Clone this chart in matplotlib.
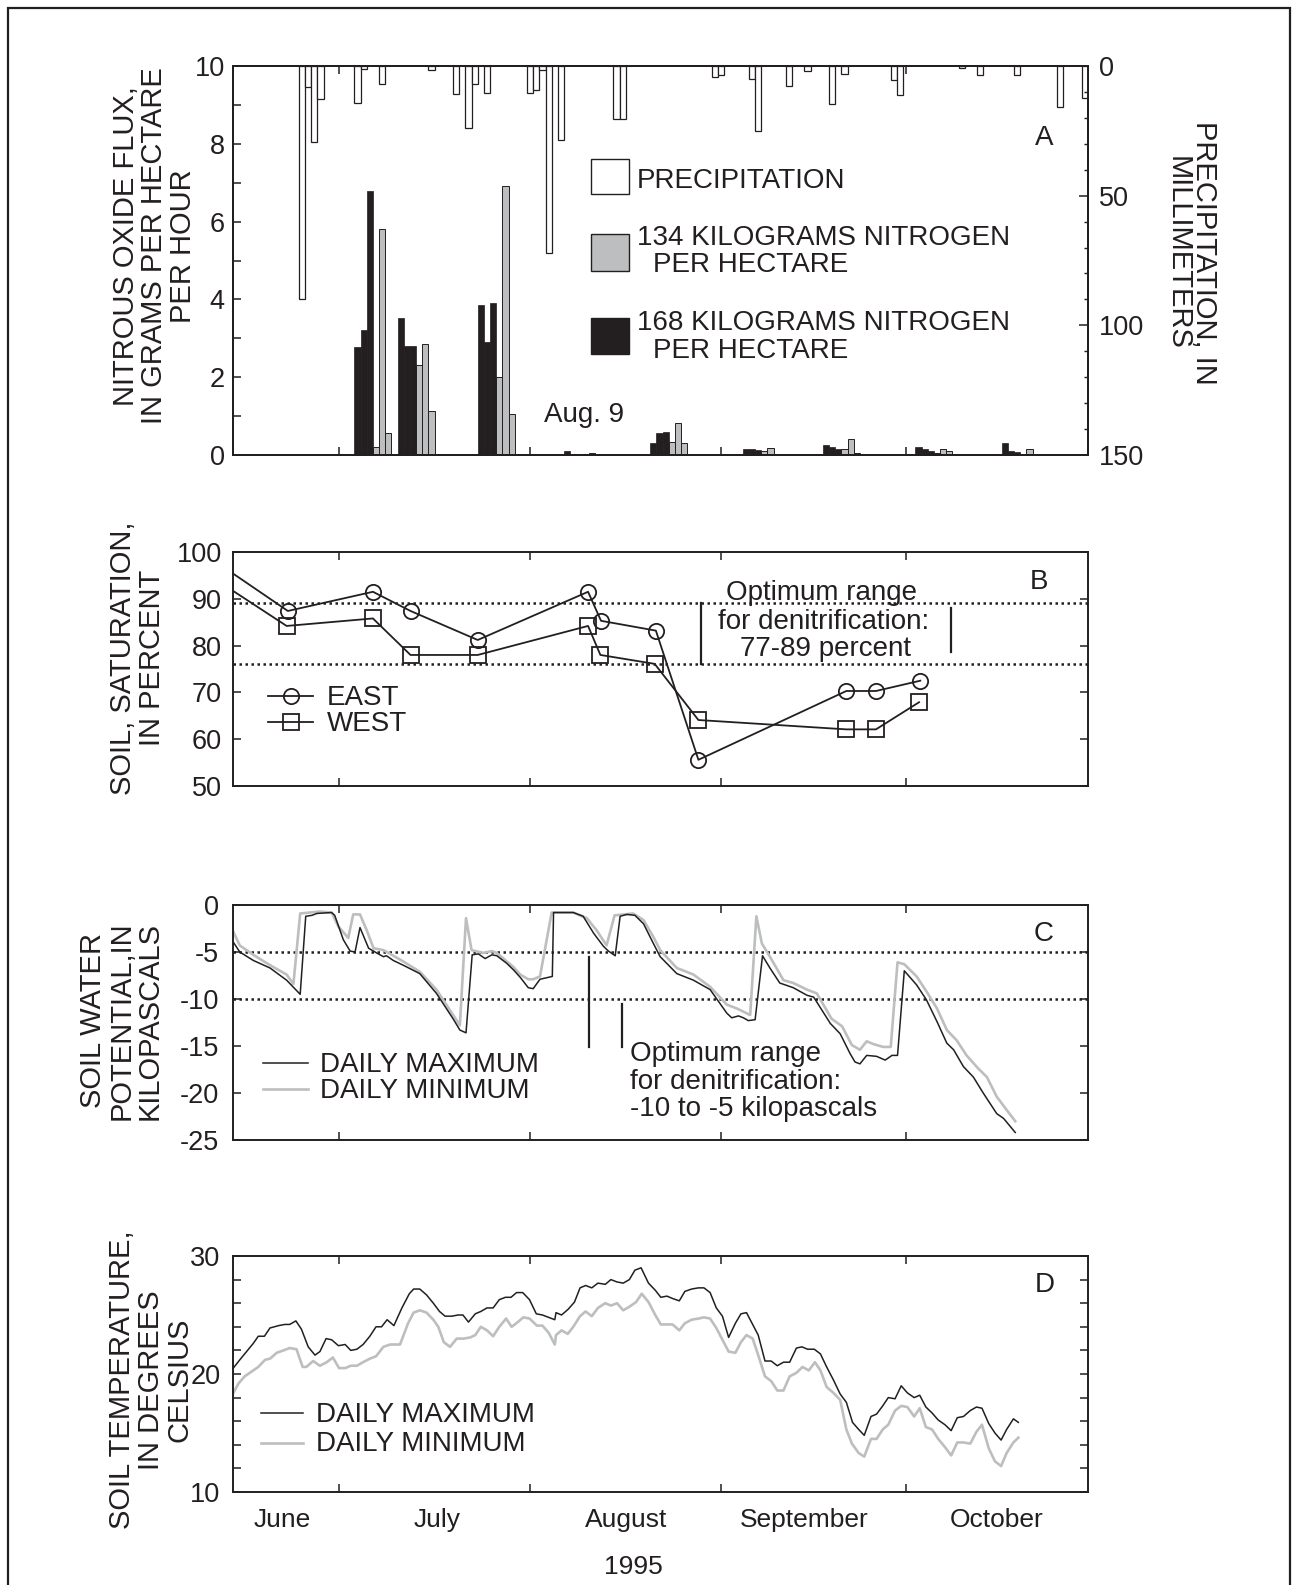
import matplotlib
matplotlib.use("Agg")
import matplotlib.pyplot as plt
from matplotlib.patches import Rectangle
from matplotlib.ticker import MultipleLocator, FixedLocator
import matplotlib.transforms as mtransforms

# ---------------- data (x = day of year, 1995) ----------------
month_edges = [182, 213, 244, 274]          # Jul 1, Aug 1, Sep 1, Oct 1
month_names = ["June", "July", "August", "September", "October"]
month_label_days = [172.8, 197.9, 228.6, 257.4, 288.7]

precip_day = [176, 177, 178, 179, 185, 186, 189, 197, 201, 203, 204, 206, 213, 214,
              215, 216, 218, 227, 228, 243, 244, 249, 250, 255, 258, 262, 264, 272,
              273, 283, 286, 292, 299, 303]
precip_mm = [90, 8.2, 29.4, 12.9, 14.4, 1.2, 6.9, 1.7, 10.7, 23.8, 7.1, 10.4, 10.4, 9.3,
             1.5, 72.1, 28.4, 20.4, 20.4, 4.2, 3.5, 5.1, 25.0, 7.7, 1.9, 14.5, 3.2, 5.5,
             11.3, 0.9, 3.5, 3.5, 15.8, 12.5]

flux168_day = [185, 186, 187, 192, 193, 194, 205, 206, 207, 219, 220, 221, 233, 234, 235,
               248, 249, 250, 261, 262, 263, 276, 277, 278, 290, 291, 292]
flux168 = [2.78, 3.21, 6.79, 3.53, 2.81, 2.81, 3.86, 2.90, 3.90, 0.10, 0.03, 0.03,
           0.31, 0.57, 0.60, 0.15, 0.16, 0.13, 0.25, 0.20, 0.15, 0.21, 0.16, 0.10,
           0.30, 0.09, 0.07]
flux134_day = [188, 189, 190, 195, 196, 197, 208, 209, 210, 222, 223, 224, 236, 237, 238,
               251, 252, 253, 264, 265, 266, 279, 280, 281, 293, 294, 295]
flux134 = [0.21, 5.80, 0.57, 2.31, 2.86, 1.14, 2.00, 6.92, 1.05, 0.01, 0.06, 0.02,
           0.33, 0.81, 0.31, 0.10, 0.18, 0.03, 0.15, 0.42, 0.06, 0.06, 0.16, 0.09,
           0.03, 0.15, 0.03]

east_day = [164.8, 173.7, 187.5, 193.6, 204.5, 222.4, 224.5, 233.4, 240.3, 264.3, 269.1, 276.3]
east_sat = [95.4, 87.4, 91.5, 87.4, 81.2, 91.5, 85.3, 83.2, 55.6, 70.3, 70.3, 72.5]
west_day = [164.8, 173.5, 187.5, 193.6, 204.5, 222.4, 224.4, 233.2, 240.3, 264.3, 269.1, 276.1]
west_sat = [91.7, 84.2, 85.8, 78.0, 78.0, 84.2, 78.0, 76.1, 64.1, 62.1, 62.1, 67.9]
sat_optimum = [76, 89]

pot_max_day = [164.6, 165.9, 168.1, 170.8, 173.5, 175.7, 176.6, 177.6, 178.4, 180.8, 181.3,
               182.7, 183.8, 184.6, 185.4, 186.8, 188.1, 189.2, 189.7, 190.8, 192.4, 195.1,
               197.8, 200.5, 201.6, 202.6, 203.6, 204.6, 205.7, 206.8, 207.6, 209.2, 210.3,
               211.4, 212.7, 213.5, 214.6, 216.6, 216.8, 220.0, 221.6, 223.3, 224.9, 225.7,
               226.8, 227.6, 228.7, 230.0, 231.4, 233.0, 234.1, 236.8, 239.5, 242.2, 244.9,
               245.7, 246.8, 247.6, 248.4, 249.5, 250.7, 251.9, 253.5, 255.7, 257.9, 259.0,
               261.7, 263.3, 264.9, 265.7, 266.5, 267.6, 269.2, 270.6, 271.7, 272.6, 273.7,
               275.7, 277.3, 279.0, 280.6, 281.7, 283.3, 284.9, 286.5, 288.7, 289.8, 291.7]
pot_max = [-3.7, -5.0, -5.9, -6.7, -8.0, -9.5, -1.2, -1.1, -0.9, -0.8, -1.1,
           -3.7, -4.9, -5.0, -2.4, -4.6, -5.1, -5.5, -5.4, -5.9, -6.4, -7.3,
           -9.4, -12.1, -13.3, -13.6, -5.3, -5.2, -5.7, -5.3, -5.4, -6.2, -6.9,
           -7.7, -8.8, -8.9, -7.9, -7.6, -0.8, -0.8, -1.2, -3.0, -4.4, -4.9,
           -5.4, -1.2, -1.0, -1.1, -2.0, -4.1, -5.5, -7.3, -8.0, -9.0, -11.5,
           -12.0, -11.8, -12.0, -12.3, -12.2, -5.4, -6.7, -8.3, -8.8, -9.6, -9.8,
           -12.6, -13.7, -15.8, -16.7, -16.9, -16.0, -16.1, -16.5, -16.0, -16.0, -7.0,
           -8.5, -10.1, -12.4, -14.7, -15.4, -17.2, -18.3, -20.0, -22.2, -22.7, -24.2]
pot_min_day = [164.6, 165.9, 168.1, 170.8, 173.5, 174.6, 175.7, 178.9, 180.8, 181.9, 183.5,
               184.3, 185.4, 186.5, 187.6, 189.2, 190.3, 192.4, 195.1, 197.8, 200.5, 201.6,
               202.6, 203.5, 205.4, 206.8, 207.6, 209.2, 210.3, 211.4, 212.7, 213.5, 214.6,
               216.5, 220.0, 222.2, 223.8, 225.4, 226.7, 229.7, 231.4, 233.0, 234.1, 236.8,
               239.5, 242.2, 244.9, 246.5, 248.7, 249.7, 250.6, 251.9, 254.1, 255.7, 257.9,
               259.5, 261.9, 263.6, 265.2, 266.5, 267.6, 268.7, 270.3, 271.5, 272.6, 273.7,
               275.7, 277.3, 279.0, 280.6, 282.2, 283.8, 285.7, 287.1, 288.7, 290.3, 291.7]
pot_min = [-2.5, -4.3, -5.3, -6.4, -7.4, -8.4, -0.9, -0.7, -0.8, -2.3, -3.5,
           -1.0, -1.0, -2.7, -4.6, -4.8, -5.2, -6.0, -7.1, -9.0, -11.7, -12.8,
           -1.4, -4.8, -5.1, -4.9, -5.1, -6.0, -6.6, -7.4, -7.9, -7.9, -7.6,
           -0.8, -0.8, -1.4, -2.7, -4.3, -1.1, -0.9, -1.6, -3.4, -4.8, -6.7,
           -7.4, -8.7, -10.6, -11.0, -11.7, -1.2, -4.1, -5.5, -8.0, -8.3, -9.0,
           -9.4, -12.1, -12.9, -14.9, -15.4, -14.5, -14.8, -15.1, -15.1, -6.1, -6.3,
           -7.6, -9.2, -11.0, -13.3, -14.4, -16.0, -17.4, -18.3, -20.4, -21.8, -23.0]
pot_optimum = [-10, -5]

temp_max_day = [164.85, 165.9, 167.0, 168.1, 168.9, 169.9, 170.8, 172.2, 173.2, 174.0, 175.0,
                175.9, 177.0, 178.1, 178.9, 179.9, 180.8, 181.9, 183.0, 183.9, 184.9, 185.9,
                187.0, 188.0, 188.9, 189.8, 190.9, 192.2, 193.4, 194.1, 195.1, 196.2, 197.3,
                198.3, 199.2, 200.3, 201.3, 202.1, 203.0, 204.1, 205.0, 206.0, 207.0, 208.0,
                209.0, 209.9, 210.8, 211.8, 212.9, 214.0, 215.0, 216.0, 217.0, 217.2, 218.1,
                219.2, 220.2, 221.1, 222.0, 223.0, 224.0, 225.2, 226.1, 227.1, 228.1, 229.1,
                230.0, 231.0, 232.2, 233.3, 234.2, 235.2, 236.1, 237.2, 238.1, 239.2, 240.3,
                241.2, 242.2, 243.2, 244.2, 245.2, 246.3, 247.2, 248.1, 249.1, 250.0, 251.1,
                252.1, 253.1, 254.1, 255.1, 256.2, 257.1, 258.0, 259.1, 260.1, 261.1, 262.2,
                263.3, 264.3, 265.3, 266.3, 267.2, 268.3, 269.2, 270.2, 271.1, 272.2, 273.2,
                274.2, 275.3, 276.2, 277.2, 278.2, 279.2, 280.3, 281.3, 282.3, 283.3, 284.4,
                285.4, 286.3, 287.4, 288.4, 289.4, 290.3, 291.4, 292.2]
temp_max = [20.5, 21.2, 21.9, 22.6, 23.2, 23.2, 23.9, 24.1, 24.2, 24.2, 24.5,
            23.8, 22.3, 21.6, 21.9, 23.0, 22.9, 22.4, 22.5, 22.0, 22.1, 22.5,
            23.2, 24.0, 24.0, 24.6, 24.1, 25.6, 26.8, 27.2, 27.2, 26.7, 26.0,
            25.3, 24.9, 24.9, 25.0, 25.0, 24.4, 25.1, 25.3, 25.6, 25.6, 26.3,
            26.5, 26.5, 26.9, 26.9, 26.3, 25.1, 25.0, 24.8, 24.6, 25.2, 25.0,
            25.5, 26.1, 27.3, 27.5, 27.3, 27.7, 27.6, 28.0, 27.8, 27.7, 28.0,
            28.8, 29.0, 27.7, 27.1, 26.5, 26.6, 26.4, 26.2, 27.0, 27.2, 27.3,
            27.3, 26.9, 25.6, 24.9, 23.1, 24.3, 25.1, 25.2, 24.2, 23.3, 21.1,
            21.1, 20.7, 21.0, 21.0, 22.2, 22.3, 22.1, 22.1, 21.7, 20.6, 19.5,
            18.3, 17.6, 15.9, 15.3, 14.8, 16.4, 16.6, 17.3, 18.0, 17.9, 19.0,
            18.4, 18.0, 18.2, 17.2, 16.7, 16.1, 15.7, 15.2, 16.3, 16.4, 16.9,
            17.2, 17.1, 15.8, 15.0, 14.4, 15.3, 16.2, 15.9]
temp_min_day = [164.85, 165.7, 166.7, 167.8, 168.9, 170.0, 170.8, 171.9, 173.0, 174.0, 175.1,
                176.1, 176.7, 177.8, 178.9, 180.0, 181.0, 182.0, 183.0, 183.9, 184.9, 185.9,
                187.0, 188.0, 189.2, 190.3, 191.9, 193.2, 194.1, 195.1, 196.2, 197.3, 198.1,
                199.0, 200.0, 201.1, 202.2, 203.3, 204.1, 205.0, 206.0, 207.0, 208.0, 209.1,
                210.0, 211.0, 211.9, 212.9, 214.1, 215.0, 216.0, 217.0, 217.2, 218.1, 219.1,
                220.0, 221.1, 222.0, 223.0, 224.0, 225.2, 226.1, 227.1, 228.1, 229.1, 230.2,
                231.1, 232.2, 233.3, 234.2, 235.2, 236.1, 237.2, 238.1, 239.2, 240.3, 241.2,
                242.2, 243.2, 244.2, 245.2, 246.3, 247.2, 248.1, 249.1, 250.0, 251.1, 252.1,
                253.1, 254.1, 255.1, 256.2, 257.2, 258.2, 259.2, 260.1, 261.1, 262.2, 263.3,
                264.3, 265.2, 266.3, 267.2, 268.3, 269.2, 270.2, 271.1, 272.2, 273.2, 274.2,
                275.3, 276.2, 277.2, 278.2, 279.2, 280.3, 281.3, 282.3, 283.3, 284.4, 285.4,
                286.3, 287.4, 288.4, 289.4, 290.3, 291.4, 292.2]
temp_min = [18.4, 19.2, 19.8, 20.2, 20.6, 21.2, 21.3, 21.8, 22.0, 22.2, 22.1,
            20.6, 20.6, 21.1, 20.7, 21.0, 21.4, 20.5, 20.5, 20.7, 20.7, 21.0,
            21.3, 21.5, 22.3, 22.5, 22.5, 24.3, 25.2, 25.4, 25.2, 24.6, 24.0,
            22.7, 22.3, 23.0, 23.0, 23.1, 23.3, 24.0, 23.7, 23.2, 24.0, 24.7,
            24.0, 24.4, 24.8, 24.7, 24.1, 24.1, 23.5, 22.5, 23.3, 23.7, 23.4,
            24.0, 24.9, 25.3, 24.9, 25.6, 26.0, 25.8, 26.0, 25.4, 25.7, 26.1,
            26.8, 26.1, 25.0, 24.2, 24.2, 24.2, 23.7, 24.3, 24.6, 24.7, 24.8,
            24.7, 23.9, 22.9, 21.9, 21.8, 22.7, 23.3, 23.0, 21.6, 19.8, 19.4,
            18.6, 18.6, 19.8, 20.1, 20.6, 20.3, 21.0, 20.3, 18.9, 18.4, 17.8,
            15.3, 14.1, 13.3, 13.0, 14.5, 14.5, 15.3, 15.7, 16.9, 17.3, 17.2,
            16.4, 17.1, 15.5, 15.3, 14.5, 13.8, 13.1, 14.2, 14.2, 14.1, 15.1,
            15.7, 13.7, 12.6, 12.2, 13.3, 14.2, 14.6]

# ---------------- style ----------------
plt.rcParams['font.family'] = ['Liberation Sans', 'DejaVu Sans']
plt.rcParams['axes.unicode_minus'] = False

W, H = 1294, 1585
INK = '#231f20'
GRAY = '#bcbec0'
FS = 19.5      # tick labels
LFS = 20       # annotation / legend text
YFS = 21       # axis titles
XMIN, XMAX = 164.8, 303.5

fig = plt.figure(figsize=(W / 100, H / 100), dpi=100)


def fx(x):
    return x / W


def fy(y):
    return 1 - y / H


def add_axes_px(left, top, right, bottom):
    return fig.add_axes([fx(left), fy(bottom), (right - left) / W, (bottom - top) / H])


def ftext(x, y, s, ha='left', size=LFS, rot=0):
    """Text placed in figure pixels; y (or x when rotated) = centre of capitals."""
    off = 0.358 * size * 100 / 72
    if rot == 0:
        fig.text(fx(x), fy(y + off), s, ha=ha, va='baseline', fontsize=size, color=INK)
    elif rot == 90:
        fig.text(fx(x + off), fy(y), s, ha='center', va='baseline', rotation=90,
                 rotation_mode='anchor', fontsize=size, color=INK)
    else:
        fig.text(fx(x - off), fy(y), s, ha='center', va='baseline', rotation=270,
                 rotation_mode='anchor', fontsize=size, color=INK)


def style(ax, ypad):
    for s in ax.spines.values():
        s.set_linewidth(1.4)
        s.set_color(INK)
    ax.set_xlim(XMIN, XMAX)
    ax.xaxis.set_major_locator(FixedLocator(month_edges))
    ax.tick_params(axis='x', which='major', direction='in', length=6, width=1.1,
                   top=True, bottom=True, labelbottom=False, color=INK)
    ax.tick_params(axis='y', which='both', direction='in', length=6, width=1.1,
                   left=True, right=True, labelsize=FS, pad=ypad, color=INK,
                   labelcolor=INK)


# ---------------- panel A ----------------
axA = add_axes_px(233, 66, 1088, 455)
style(axA, 6)
axA.tick_params(axis='y', which='both', right=False)
axA.set_ylim(0, 10)
axA.yaxis.set_major_locator(MultipleLocator(2))
axA.yaxis.set_minor_locator(MultipleLocator(1))
axA.bar(flux168_day, flux168, width=1.0, color=INK, edgecolor=INK, linewidth=0.5)
axA.bar(flux134_day, flux134, width=1.0, color=GRAY, edgecolor=INK, linewidth=0.7)

axP = axA.twinx()
axP.set_xlim(XMIN, XMAX)
axP.set_ylim(150, 0)
axP.bar(precip_day, precip_mm, width=1.0, color='white', edgecolor=INK, linewidth=0.9)
axP.yaxis.set_major_locator(FixedLocator([0, 50, 100, 150]))
axP.yaxis.set_minor_locator(MultipleLocator(10))
axP.tick_params(axis='y', which='major', direction='in', length=6.5, width=1.1,
                labelsize=FS, pad=8, color=INK, labelcolor=INK)
axP.tick_params(axis='y', which='minor', direction='in', length=3, width=1.0, color=INK)
for s in axP.spines.values():
    s.set_linewidth(1.4)
    s.set_color(INK)

# legend for A
for (y0, y1), fc in zip([(159, 194), (234, 271), (318, 354)], ['white', GRAY, INK]):
    fig.add_artist(Rectangle((fx(591), fy(y1)), 38 / W, (y1 - y0) / H,
                             transform=fig.transFigure, facecolor=fc,
                             edgecolor=INK, linewidth=1.0))
ftext(637, 178, "PRECIPITATION")
ftext(637, 235, "134 KILOGRAMS NITROGEN")
ftext(653, 262, "PER HECTARE")
ftext(637, 320, "168 KILOGRAMS NITROGEN")
ftext(653, 348, "PER HECTARE")
ftext(1044, 135, "A", ha='center')
ftext(544, 412, "Aug. 9")

for x, s in zip([124, 152, 181], ["NITROUS OXIDE FLUX,", "IN GRAMS PER HECTARE", "PER HOUR"]):
    ftext(x, 246, s, rot=90, size=YFS)
for x, s in zip([1206, 1180], ["PRECIPITATION, IN", "MILLIMETERS"]):
    ftext(x, 253, s, rot=270, size=YFS)

# ---------------- panel B ----------------
axB = add_axes_px(233, 552, 1088, 786)
style(axB, 8)
axB.set_ylim(50, 100)
axB.yaxis.set_major_locator(MultipleLocator(10))
for v in sat_optimum:
    axB.axhline(v, color=INK, lw=1.8, ls=(0, (1, 1.4)), zorder=1)
axB.plot(east_day, east_sat, color=INK, lw=1.3, marker='o', ms=11, mfc='none',
         mec=INK, mew=1.3, markevery=list(range(1, len(east_day))), zorder=3)
axB.plot(west_day, west_sat, color=INK, lw=1.3, marker='s', ms=11, mfc='none',
         mec=INK, mew=1.3, markevery=list(range(1, len(west_day))), zorder=3)
axB.plot([240.8, 240.8], [76, 89], color=INK, lw=1.6)
axB.plot([281.3, 281.3], [78.7, 88.0], color=INK, lw=1.6)

# legend B
for yy, mk in [(696, 'o'), (722, 's')]:
    fig.add_artist(plt.Line2D([fx(268), fx(313)], [fy(yy), fy(yy)], transform=fig.transFigure,
                              color=INK, lw=1.3))
    fig.add_artist(plt.Line2D([fx(290.5)], [fy(yy)], transform=fig.transFigure, marker=mk,
                              ms=11, mfc='none', mec=INK, mew=1.3, ls='none'))
ftext(327, 695, "EAST")
ftext(327, 721, "WEST")
ftext(822, 590, "Optimum range", ha='center')
ftext(824, 619, "for denitrification:", ha='center')
ftext(826, 646, "77-89 percent", ha='center')
ftext(1039, 579, "B", ha='center')
for x, s in zip([121, 150], ["SOIL, SATURATION,", "IN PERCENT"]):
    ftext(x, 658, s, rot=90, size=YFS)

# ---------------- panel C ----------------
axC = add_axes_px(233, 905, 1088, 1140)
style(axC, 10)
axC.set_ylim(-25, 0)
axC.yaxis.set_major_locator(MultipleLocator(5))
for v in pot_optimum:
    axC.axhline(v, color=INK, lw=1.8, ls=(0, (1, 1.4)), zorder=1)
axC.plot(pot_min_day, pot_min, color=GRAY, lw=1.9, zorder=2)
axC.plot(pot_max_day, pot_max, color=INK, lw=1.1, zorder=3)
axC.plot([222.5, 222.5], [-5.5, -15.1], color=INK, lw=1.6)
axC.plot([227.9, 227.9], [-10.5, -15.1], color=INK, lw=1.6)

for yy, col, lw in [(1063, INK, 1.1), (1089, GRAY, 1.9)]:
    fig.add_artist(plt.Line2D([fx(263), fx(308)], [fy(yy), fy(yy)], transform=fig.transFigure,
                              color=col, lw=lw))
ftext(320, 1062, "DAILY MAXIMUM")
ftext(320, 1088, "DAILY MINIMUM")
ftext(630, 1051, "Optimum range")
ftext(630, 1079, "for denitrification:")
ftext(630, 1106, "-10 to -5 kilopascals")
ftext(1044, 931, "C", ha='center')
for x, s in zip([91, 119, 147], ["SOIL WATER", "POTENTIAL,IN", "KILOPASCALS"]):
    ftext(x, 1021, s, rot=90, size=YFS)

# ---------------- panel D ----------------
axD = add_axes_px(233, 1256, 1088, 1492)
style(axD, 9)
axD.set_ylim(10, 30)
axD.yaxis.set_major_locator(MultipleLocator(10))
axD.yaxis.set_minor_locator(MultipleLocator(2))
axD.plot(temp_min_day, temp_min, color=GRAY, lw=1.9, zorder=2)
axD.plot(temp_max_day, temp_max, color=INK, lw=1.1, zorder=3)

for yy, col, lw in [(1413, INK, 1.1), (1443, GRAY, 1.9)]:
    fig.add_artist(plt.Line2D([fx(261), fx(303)], [fy(yy), fy(yy)], transform=fig.transFigure,
                              color=col, lw=lw))
ftext(316, 1412, "DAILY MAXIMUM")
ftext(316, 1441, "DAILY MINIMUM")
ftext(1045, 1282, "D", ha='center')
for x, s in zip([120, 149, 177], ["SOIL TEMPERATURE,", "IN DEGREES", "CELSIUS"]):
    ftext(x, 1380, s, rot=90, size=YFS)

# month labels
trans = mtransforms.blended_transform_factory(axD.transData, fig.transFigure)
off = 0.358 * 19 * 100 / 72
for d, name in zip(month_label_days, month_names):
    axD.text(d, fy(1517.5 + off), name, transform=trans, ha='center', va='baseline',
             fontsize=19, color=INK, clip_on=False)
ftext(633, 1565, "1995", ha='center', size=19)

# outer frame
fig.add_artist(Rectangle((fx(8), -0.02), (1290 - 8) / W, fy(8) + 0.02,
                         transform=fig.transFigure, facecolor='none',
                         edgecolor=INK, linewidth=1.6))

fig.savefig("out.png", dpi=100)
